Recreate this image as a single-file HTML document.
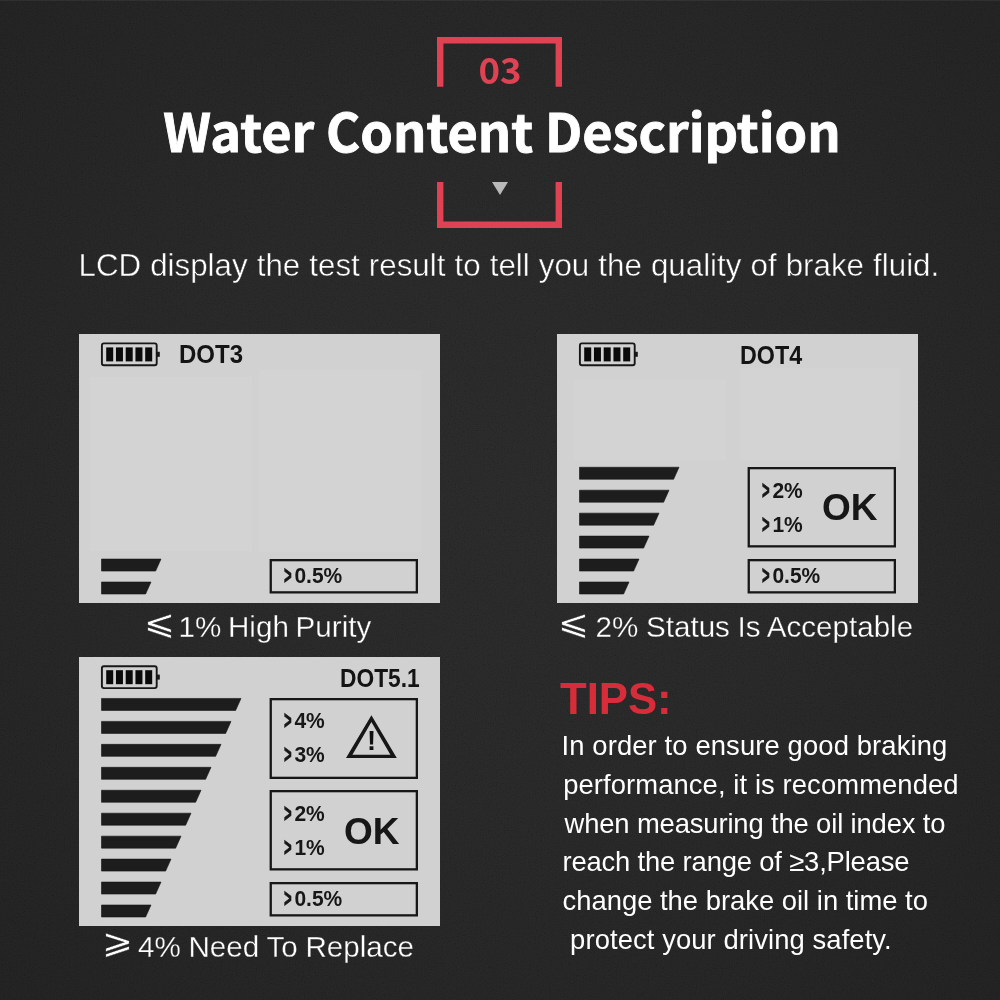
<!DOCTYPE html>
<html><head><meta charset="utf-8"><title>Water Content Description</title>
<style>
html,body{margin:0;padding:0}
body{width:1000px;height:1000px;overflow:hidden;position:relative;background:#282828;font-family:"Liberation Sans",sans-serif;}
#bg{position:absolute;left:0;top:0;width:1000px;height:1000px;background:radial-gradient(ellipse at 50% 48%,#292929 0%,#272727 45%,#212121 100%);}
#noise{position:absolute;left:0;top:0;opacity:.09;mix-blend-mode:overlay}
#topline{position:absolute;left:0;top:0;width:1000px;height:1px;background:rgba(255,255,255,.06)}
.abs{position:absolute;white-space:nowrap}
#num{left:0;width:1000px;text-align:center;top:43.6px;font:bold 36.6px/50px "Noto Sans CJK SC","Liberation Sans",sans-serif;color:#df4252;}
#title{left:2px;width:1000px;text-align:center;top:89px;font:bold 52.2px/80px "Noto Sans CJK SC","Liberation Sans",sans-serif;color:#fff;-webkit-text-stroke:.9px #fff}
#tri{left:492px;top:182.2px;width:0;height:0;border-left:8px solid transparent;border-right:8px solid transparent;border-top:13px solid #b9b9b9}
#sub{left:78.5px;top:246px;font-size:31.3px;word-spacing:.4px;line-height:40px;color:#fff;-webkit-text-stroke:.45px #2a2a2a}
.panel{position:absolute;width:361px;background:#d1d1d1;color:#171717}
.panel svg{position:absolute;left:0;top:0}
.panel span{position:absolute;white-space:nowrap;font-weight:bold}
.dot{color:#141414;font-size:26px;line-height:30px;transform-origin:0 50%}
.pct{left:204.5px;font-size:21px;line-height:24px;transform-origin:0 19.3px;transform:scaleY(1.08)}
.gt{display:inline-block;width:10.9px;transform-origin:0 50%;transform:scale(.62,1.1);-webkit-text-stroke:.6px #171717}
.ok{left:265px;top:152.7px;font-size:37px;line-height:44px}
.bang{left:287.9px;top:68.7px;font-size:27.3px;line-height:30px;color:#101010}
.cap{color:#fff;font-size:29.6px;line-height:36px;-webkit-text-stroke:.3px #282828}
.cap i{position:absolute;font-style:normal;font-family:"DejaVu Sans","Liberation Sans",sans-serif;font-weight:200;font-size:37px;line-height:40px;transform-origin:50% 90%;transform:scaleY(.92)}
#tips{left:560px;top:674.3px;font-weight:bold;font-size:43.7px;line-height:50px;color:#d72d3b}
#body{left:562.5px;top:727.3px;font-size:27.4px;line-height:38.7px;color:#fff}
.ln{position:absolute;white-space:nowrap}
</style></head><body>
<div id="bg"></div>
<svg id="noise" width="1000" height="1000"><filter id="nf" x="0" y="0" width="100%" height="100%"><feTurbulence type="fractalNoise" baseFrequency="0.85" numOctaves="2" seed="7" result="t"/><feColorMatrix type="saturate" values="0"/><feComponentTransfer><feFuncR type="linear" slope="3" intercept="-1"/><feFuncG type="linear" slope="3" intercept="-1"/><feFuncB type="linear" slope="3" intercept="-1"/><feFuncA type="linear" slope="0" intercept="1"/></feComponentTransfer></filter><rect width="1000" height="1000" filter="url(#nf)"/></svg>
<div id="topline"></div>
<svg class="abs" style="left:0;top:0" width="1000" height="240" viewBox="0 0 1000 240"><g fill="none" stroke="#df4252" stroke-width="6.4" stroke-linejoin="miter"><polyline points="440.2,86.8 440.2,40.2 558.8,40.2 558.8,86.8"/><polyline points="440.2,182 440.2,224.8 558.8,224.8 558.8,182"/></g></svg>
<div class="abs" id="num">03</div>
<div class="abs" id="title">Water Content Description</div>
<div class="abs" id="tri"></div>
<div class="abs" id="sub">LCD display the test result to tell you the quality of brake fluid.</div>
<div class="panel" style="left:79px;top:333.5px;height:269.5px"><svg width="361" height="269.5" viewBox="0 0 361 269.5"><rect x="11" y="43" width="162" height="174" fill="#d3d3d3"/><rect x="180" y="36" width="163" height="182" fill="#d3d3d3"/><g transform="translate(0,-0.8)"><rect x="22.9" y="10.2" width="54.8" height="21.9" rx="2" ry="2" fill="none" stroke="#171717" stroke-width="1.9"/><rect x="78" y="18.6" width="2.8" height="5" fill="#171717"/><rect x="27.20" y="14.2" width="7" height="14" fill="#0a0a0a"/><rect x="36.95" y="14.2" width="7" height="14" fill="#0a0a0a"/><rect x="46.70" y="14.2" width="7" height="14" fill="#0a0a0a"/><rect x="56.45" y="14.2" width="7" height="14" fill="#0a0a0a"/><rect x="66.20" y="14.2" width="7" height="14" fill="#0a0a0a"/></g><g fill="#1d1d1d" stroke="#141414" stroke-width=".6"><polygon points="22.5,248.00 72.00,248.00 66.60,260.00 22.5,260.00"/>
<polygon points="22.5,225.05 82.00,225.05 76.60,237.05 22.5,237.05"/></g><rect x="191.75" y="226.15" width="146.10" height="32.20" fill="none" stroke="#171717" stroke-width="2.3"/></svg><span class="dot" style="left:100px;top:5.2px;transform:scaleX(0.924)">DOT3</span><span class="pct" style="top:230.2px"><b class="gt">&gt;</b>0.5%</span></div>
<div class="panel" style="left:557px;top:333.5px;height:269.5px"><svg width="361" height="269.5" viewBox="0 0 361 269.5"><rect x="17" y="46" width="152" height="80" fill="#d3d3d3"/><rect x="183" y="34" width="160" height="92" fill="#d3d3d3"/><g transform="translate(0,-0.8)"><rect x="22.9" y="10.2" width="54.8" height="21.9" rx="2" ry="2" fill="none" stroke="#171717" stroke-width="1.9"/><rect x="78" y="18.6" width="2.8" height="5" fill="#171717"/><rect x="27.20" y="14.2" width="7" height="14" fill="#0a0a0a"/><rect x="36.95" y="14.2" width="7" height="14" fill="#0a0a0a"/><rect x="46.70" y="14.2" width="7" height="14" fill="#0a0a0a"/><rect x="56.45" y="14.2" width="7" height="14" fill="#0a0a0a"/><rect x="66.20" y="14.2" width="7" height="14" fill="#0a0a0a"/></g><g fill="#1d1d1d" stroke="#141414" stroke-width=".6"><polygon points="22.5,248.00 72.00,248.00 66.60,260.00 22.5,260.00"/>
<polygon points="22.5,225.05 82.00,225.05 76.60,237.05 22.5,237.05"/>
<polygon points="22.5,202.10 92.00,202.10 86.60,214.10 22.5,214.10"/>
<polygon points="22.5,179.15 102.00,179.15 96.60,191.15 22.5,191.15"/>
<polygon points="22.5,156.20 112.00,156.20 106.60,168.20 22.5,168.20"/>
<polygon points="22.5,133.25 122.00,133.25 116.60,145.25 22.5,145.25"/></g><rect x="191.75" y="134.15" width="146.10" height="78.20" fill="none" stroke="#171717" stroke-width="2.3"/><rect x="191.75" y="226.15" width="146.10" height="32.20" fill="none" stroke="#171717" stroke-width="2.3"/></svg><span class="dot" style="left:182.6px;top:6px;transform:scaleX(0.896)">DOT4</span><span class="pct" style="top:145.2px"><b class="gt">&gt;</b>2%</span><span class="pct" style="top:179px"><b class="gt">&gt;</b>1%</span><span class="ok">OK</span><span class="pct" style="top:230.2px"><b class="gt">&gt;</b>0.5%</span></div>
<div class="panel" style="left:79px;top:657px;height:268.5px"><svg width="361" height="268.5" viewBox="0 0 361 268.5"><g transform="translate(0,-1.0)"><rect x="22.9" y="10.2" width="54.8" height="21.9" rx="2" ry="2" fill="none" stroke="#171717" stroke-width="1.9"/><rect x="78" y="18.6" width="2.8" height="5" fill="#171717"/><rect x="27.20" y="14.2" width="7" height="14" fill="#0a0a0a"/><rect x="36.95" y="14.2" width="7" height="14" fill="#0a0a0a"/><rect x="46.70" y="14.2" width="7" height="14" fill="#0a0a0a"/><rect x="56.45" y="14.2" width="7" height="14" fill="#0a0a0a"/><rect x="66.20" y="14.2" width="7" height="14" fill="#0a0a0a"/></g><g fill="#1d1d1d" stroke="#141414" stroke-width=".6"><polygon points="22.5,248.00 72.00,248.00 66.60,260.00 22.5,260.00"/>
<polygon points="22.5,225.05 82.00,225.05 76.60,237.05 22.5,237.05"/>
<polygon points="22.5,202.10 92.00,202.10 86.60,214.10 22.5,214.10"/>
<polygon points="22.5,179.15 102.00,179.15 96.60,191.15 22.5,191.15"/>
<polygon points="22.5,156.20 112.00,156.20 106.60,168.20 22.5,168.20"/>
<polygon points="22.5,133.25 122.00,133.25 116.60,145.25 22.5,145.25"/>
<polygon points="22.5,110.30 132.00,110.30 126.60,122.30 22.5,122.30"/>
<polygon points="22.5,87.35 142.00,87.35 136.60,99.35 22.5,99.35"/>
<polygon points="22.5,64.40 152.00,64.40 146.60,76.40 22.5,76.40"/>
<polygon points="22.5,41.45 162.00,41.45 156.60,53.45 22.5,53.45"/></g><rect x="191.75" y="42.15" width="146.10" height="78.70" fill="none" stroke="#171717" stroke-width="2.3"/><path fill="#171717" fill-rule="evenodd" d="M292.4,58.2 L317.8,101 L267,101 Z M292.4,65 L311.4,97.8 L273.4,97.8 Z"/><rect x="191.75" y="134.15" width="146.10" height="78.20" fill="none" stroke="#171717" stroke-width="2.3"/><rect x="191.75" y="226.15" width="146.10" height="32.20" fill="none" stroke="#171717" stroke-width="2.3"/></svg><span class="dot" style="left:261px;top:6px;transform:scaleX(0.875)">DOT5.1</span><span class="pct" style="top:52.3px"><b class="gt">&gt;</b>4%</span><span class="pct" style="top:85.7px"><b class="gt">&gt;</b>3%</span><span class="bang">!</span><span class="pct" style="top:145.2px"><b class="gt">&gt;</b>2%</span><span class="pct" style="top:179px"><b class="gt">&gt;</b>1%</span><span class="ok">OK</span><span class="pct" style="top:230.2px"><b class="gt">&gt;</b>0.5%</span></div>
<div class="abs cap" style="left:178.5px;top:609px;word-spacing:-1.5px"><i style="left:-35px;top:-7px">⩽</i>1% High Purity</div>
<div class="abs cap" style="left:595.5px;top:609px;word-spacing:-.5px"><i style="left:-37.5px;top:-7px">⩽</i>2% Status Is Acceptable</div>
<div class="abs cap" style="left:138px;top:929px;word-spacing:-.5px"><i style="left:-36px;top:-7.8px">⩾</i>4% Need To Replace</div>
<div class="abs" id="tips">TIPS:</div>
<div class="abs" id="body">
<div class="ln" style="top:0.0px;left:-1px;letter-spacing:0.12px">In order to ensure good braking</div>
<div class="ln" style="top:38.7px;left:0.7px;letter-spacing:0.09px">performance, it is recommended</div>
<div class="ln" style="top:77.4px;left:2px;letter-spacing:-0.14px">when measuring the oil index to</div>
<div class="ln" style="top:116.1px;left:0px;letter-spacing:-0.17px">reach the range of ≥3,Please</div>
<div class="ln" style="top:154.8px;left:0px;letter-spacing:0px">change the brake oil in time to</div>
<div class="ln" style="top:193.5px;left:7.6px;letter-spacing:0.09px">protect your driving safety.</div>
</div>
</body></html>
